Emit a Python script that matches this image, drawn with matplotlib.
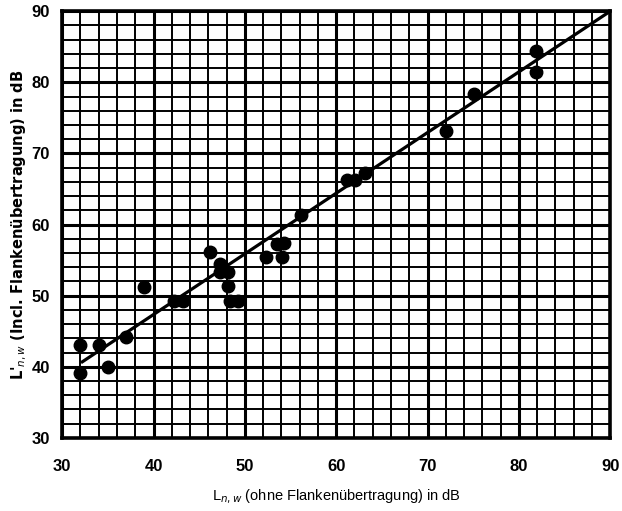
import matplotlib
matplotlib.use('Agg')
from matplotlib import pyplot as plt
from matplotlib.ticker import MultipleLocator

# measured points, L_n,w (without flanking) vs L'_n,w (with flanking)
x_vals = [32, 32, 34, 35, 37, 39, 42.2, 43.2, 46.2, 47.3, 47.3, 48.2, 48.2, 48.4, 49.3,
          52.3, 54.1, 53.5, 54.3, 56.2, 61.2, 62.1, 63.1, 72, 75.1, 81.9, 81.9]
y_vals = [43, 39.1, 43, 40, 44.2, 51.2, 49.2, 49.2, 56.1, 54.4, 53.3, 53.4, 51.3, 49.2, 49.2,
          55.4, 55.4, 57.3, 57.4, 61.3, 66.3, 66.3, 67.2, 73.2, 78.4, 84.4, 81.4]

# regression line end points
line_x = [32.2, 90]
line_y = [40.7, 90]

ticks = [30, 40, 50, 60, 70, 80, 90]

narrow = ['Liberation Sans', 'DejaVu Sans']


def plot():
    fig = plt.figure(figsize=(6.22, 5.11), dpi=100)
    ax = fig.add_axes([0.1, 0.143, 0.881, 0.835])

    ax.set_xlim(30, 90)
    ax.set_ylim(30, 90)

    ax.xaxis.set_major_locator(MultipleLocator(10))
    ax.yaxis.set_major_locator(MultipleLocator(10))
    ax.xaxis.set_minor_locator(MultipleLocator(2))
    ax.yaxis.set_minor_locator(MultipleLocator(2))
    ax.grid(which='minor', color='black', linewidth=1.4)
    ax.grid(which='major', color='black', linewidth=2.2)
    ax.set_axisbelow(True)

    for s in ax.spines.values():
        s.set_linewidth(2.6)

    ax.tick_params(which='both', length=0)
    ax.tick_params(axis='x', pad=15)
    ax.tick_params(axis='y', pad=9)
    ax.set_xticks(ticks)
    ax.set_yticks(ticks)
    for lbl in ax.get_xticklabels() + ax.get_yticklabels():
        lbl.set_family(narrow)
        lbl.set_fontweight('bold')
        lbl.set_fontsize(12)

    ax.plot(line_x, line_y, color='black', linewidth=2.3, zorder=3)
    ax.plot(x_vals, y_vals, 'o', color='black', markersize=9, zorder=4)

    ax.set_xlabel(r"L$_{n,w}$ (ohne Flankenübertragung) in dB",
                  family=narrow, fontsize=10.5, labelpad=10)
    ax.set_ylabel(r"L'$_{n,w}$ (Incl. Flankenübertragung) in dB",
                  fontsize=10.5, fontweight='bold', labelpad=2)

    fig.savefig('out.png', dpi=100)


def main():
    plot()


if __name__ == '__main__':
    main()
